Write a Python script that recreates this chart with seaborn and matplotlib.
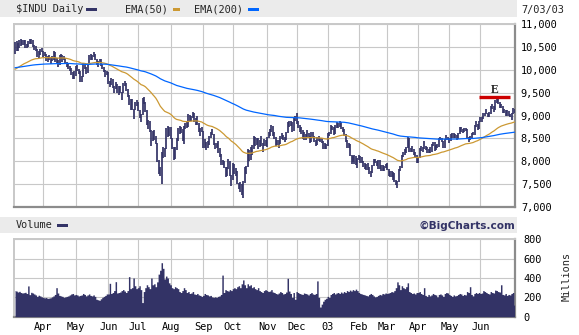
import numpy as np
import pandas as pd
import matplotlib
matplotlib.use("Agg")
import matplotlib.pyplot as plt
from matplotlib.patches import Rectangle
import seaborn as sns

# ---------------- data ----------------
start_date = "2002-03-04"
end_date = "2003-07-03"
market_holidays = ["2002-03-29", "2002-05-27", "2002-07-04", "2002-09-02", "2002-11-28",
                   "2002-12-25", "2003-01-01", "2003-01-20", "2003-02-17", "2003-04-18",
                   "2003-05-26"]

close = [
    10586, 10433, 10574, 10525, 10572, 10611, 10632, 10501, 10517, 10608, 10577, 10635, 10501, 10497, 10427, 10281, 10353, 10427, 10404,
    10362, 10313, 10205, 10241, 10271, 10249, 10208, 10381, 10176, 10191, 10093, 10301, 10281, 10262, 10257, 10136, 10089, 10031, 10035, 9910, 9819, 9946,
    10059, 10007, 9939, 9740, 9836, 10141, 10037, 9939, 10109, 10298, 10243, 10289, 10353, 10229, 10105, 10157, 10216, 10104, 10040, 9981, 9912, 9925,
    9709, 9687, 9796, 9624, 9589, 9645, 9517, 9617, 9502, 9474, 9687, 9706, 9561, 9431, 9253, 9281, 9126, 9120, 9269, 9243,
    9109, 8971, 9008, 9380, 9275, 9096, 8813, 8801, 8684, 8639, 8473, 8542, 8409, 8019, 7784, 7702, 8191, 8186, 8264, 8712, 8680, 8737,
    8506, 8313, 8043, 8274, 8456, 8712, 8745, 8688, 8482, 8743, 8818, 8778, 9011, 8907, 8957, 9053, 8872, 8919, 8825, 8695, 8670, 8664,
    8308, 8426, 8284, 8428, 8519, 8602, 8581, 8379, 8313, 8380, 8207, 8172, 7942, 7986, 7872, 7683, 7841, 7997, 7701, 7592,
    7938, 7755, 7717, 7528, 7422, 7501, 7286, 7534, 7850, 7877, 8255, 8036, 8275, 8322, 8538, 8451, 8495, 8318, 8444, 8368, 8368, 8427, 8397,
    8518, 8571, 8679, 8771, 8586, 8537, 8358, 8386, 8398, 8542, 8579, 8486, 8474, 8623, 8846, 8804, 8849, 8676, 8931, 8896,
    8862, 8743, 8737, 8623, 8645, 8473, 8574, 8589, 8538, 8433, 8627, 8535, 8447, 8364, 8511, 8493, 8448, 8432, 8304, 8333, 8342,
    8607, 8602, 8773, 8740, 8595, 8777, 8785, 8785, 8843, 8723, 8697, 8586, 8442, 8318, 8369, 8131, 7989, 8089, 8110, 7945, 8054,
    8110, 8013, 7985, 7930, 7865, 7920, 7843, 7758, 7750, 7908, 8041, 8000, 7915, 8018, 7858, 7909, 7806, 7884, 7891,
    7837, 7705, 7776, 7674, 7741, 7568, 7525, 7553, 7821, 7859, 8141, 8194, 8266, 8287, 8522, 8215, 8280, 8229, 8201, 8145, 7992,
    8069, 8285, 8240, 8277, 8300, 8298, 8197, 8221, 8203, 8351, 8403, 8257, 8337, 8328, 8485, 8516, 8440, 8306, 8471, 8502, 8480,
    8454, 8583, 8531, 8588, 8560, 8491, 8604, 8726, 8679, 8647, 8713, 8702, 8493, 8491, 8516, 8594, 8601, 8782, 8793, 8711, 8850,
    8898, 8922, 9039, 9042, 9062, 8980, 9054, 9183, 9196, 9117, 9318, 9323, 9294, 9179, 9201, 9072, 9109, 9011, 9079, 9025, 8985,
    9040, 9142, 9070,
]

high = [
    10600, 10620, 10590, 10640, 10660, 10650, 10650, 10640, 10560, 10620, 10660, 10670, 10640, 10530, 10520, 10450, 10400, 10440, 10470,
    10410, 10380, 10330, 10300, 10320, 10280, 10290, 10400, 10390, 10250, 10200, 10310, 10350, 10310, 10290, 10260, 10160, 10130, 10070, 10040, 9950, 9980,
    10080, 10100, 10020, 9960, 9870, 10150, 10150, 10050, 10130, 10320, 10340, 10310, 10380, 10350, 10240, 10180, 10240, 10230, 10130, 10050, 10000, 9970,
    9940, 9760, 9820, 9800, 9650, 9730, 9680, 9640, 9650, 9510, 9710, 9750, 9710, 9580, 9440, 9370, 9370, 9150, 9300, 9330,
    9290, 9120, 9030, 9390, 9400, 9300, 9110, 8900, 8880, 8690, 8660, 8680, 8550, 8410, 8040, 7870, 8210, 8310, 8290, 8730, 8770, 8750,
    8750, 8510, 8320, 8310, 8500, 8730, 8780, 8760, 8700, 8770, 8830, 8880, 9030, 9010, 9000, 9080, 9050, 8950, 8990, 8830, 8730, 8750,
    8660, 8480, 8430, 8450, 8560, 8630, 8700, 8590, 8390, 8410, 8440, 8300, 8170, 8040, 8010, 7880, 7870, 8050, 8000, 7710,
    7960, 7940, 7860, 7780, 7540, 7560, 7510, 7570, 7880, 7900, 8270, 8250, 8320, 8350, 8550, 8540, 8520, 8500, 8470, 8550, 8390, 8480, 8460,
    8540, 8640, 8700, 8800, 8770, 8640, 8540, 8460, 8460, 8560, 8610, 8580, 8530, 8640, 8860, 8880, 8880, 8850, 8950, 8990,
    9050, 8870, 8800, 8760, 8680, 8650, 8600, 8680, 8610, 8550, 8650, 8630, 8560, 8470, 8540, 8560, 8510, 8510, 8440, 8390, 8380,
    8620, 8640, 8800, 8780, 8750, 8800, 8850, 8830, 8870, 8850, 8760, 8700, 8600, 8460, 8400, 8370, 8140, 8110, 8140, 8110, 8080,
    8150, 8110, 8100, 8000, 7960, 7940, 7960, 7870, 7790, 7920, 8060, 8050, 8010, 8040, 8020, 7930, 7920, 7910, 7950,
    7960, 7840, 7800, 7780, 7760, 7740, 7590, 7570, 7840, 7900, 8150, 8210, 8280, 8310, 8540, 8510, 8300, 8330, 8260, 8210, 8140,
    8100, 8300, 8330, 8320, 8450, 8330, 8310, 8260, 8320, 8370, 8420, 8420, 8360, 8380, 8500, 8540, 8520, 8440, 8490, 8580, 8540,
    8500, 8600, 8620, 8610, 8600, 8570, 8620, 8740, 8740, 8710, 8730, 8730, 8700, 8530, 8550, 8610, 8630, 8800, 8870, 8820, 8870,
    8970, 8960, 9050, 9060, 9140, 9060, 9070, 9200, 9240, 9200, 9330, 9380, 9350, 9300, 9260, 9210, 9150, 9130, 9110, 9100, 9040,
    9050, 9160, 9150,
]

low = [
    10350, 10410, 10400, 10480, 10510, 10530, 10540, 10480, 10480, 10500, 10550, 10560, 10490, 10420, 10410, 10270, 10260, 10320, 10380,
    10280, 10290, 10180, 10160, 10220, 10120, 10190, 10200, 10160, 10140, 10060, 10090, 10240, 10170, 10220, 10120, 10050, 10010, 9970, 9890, 9790, 9800,
    9860, 9980, 9900, 9730, 9720, 9840, 10010, 9910, 9920, 10110, 10200, 10200, 10280, 10210, 10090, 10050, 10140, 10080, 10010, 9950, 9840, 9880,
    9690, 9620, 9670, 9600, 9490, 9570, 9500, 9440, 9480, 9330, 9480, 9650, 9540, 9400, 9230, 9120, 9110, 8930, 9110, 9210,
    9090, 8950, 8850, 9010, 9240, 9080, 8790, 8700, 8650, 8330, 8440, 8460, 8380, 7990, 7730, 7680, 7500, 8080, 8090, 8270, 8530, 8560,
    8480, 8280, 8020, 8050, 8250, 8440, 8600, 8620, 8450, 8370, 8700, 8730, 8760, 8880, 8870, 8950, 8850, 8790, 8800, 8640, 8560, 8630,
    8290, 8290, 8240, 8290, 8350, 8500, 8570, 8360, 8260, 8290, 8190, 8100, 7920, 7920, 7850, 7660, 7690, 7840, 7680, 7460,
    7590, 7730, 7680, 7500, 7400, 7330, 7270, 7200, 7530, 7720, 7880, 8010, 8040, 8150, 8270, 8330, 8350, 8270, 8310, 8340, 8210, 8340, 8330,
    8320, 8500, 8550, 8630, 8550, 8490, 8330, 8350, 8300, 8380, 8480, 8460, 8420, 8470, 8620, 8760, 8770, 8650, 8670, 8880,
    8810, 8720, 8650, 8600, 8480, 8460, 8470, 8540, 8500, 8410, 8430, 8510, 8420, 8330, 8360, 8450, 8430, 8390, 8280, 8260, 8280,
    8340, 8550, 8600, 8680, 8570, 8590, 8730, 8720, 8760, 8700, 8650, 8560, 8420, 8300, 8290, 8110, 7950, 7980, 7940, 7920, 7850,
    8020, 7970, 7960, 7870, 7840, 7820, 7820, 7730, 7660, 7740, 7900, 7960, 7890, 7840, 7840, 7780, 7790, 7780, 7860,
    7820, 7690, 7660, 7650, 7590, 7550, 7490, 7420, 7550, 7800, 7860, 8100, 8150, 8180, 8290, 8200, 8200, 8210, 8150, 8100, 7970,
    7960, 8070, 8220, 8210, 8280, 8250, 8180, 8180, 8180, 8200, 8330, 8230, 8240, 8300, 8320, 8460, 8420, 8290, 8300, 8460, 8460,
    8410, 8440, 8510, 8520, 8520, 8470, 8490, 8600, 8650, 8610, 8640, 8660, 8480, 8430, 8470, 8500, 8570, 8580, 8760, 8690, 8710,
    8850, 8860, 8920, 8990, 9030, 8960, 8970, 9040, 9150, 9080, 9110, 9280, 9260, 9160, 9170, 9050, 9050, 8990, 9000, 9000, 8960,
    8900, 9030, 9050,
]

volume_millions = [
    270, 265, 255, 262, 250, 245, 248, 252, 240, 318, 228, 252, 245, 235, 225, 210, 222, 215, 205,
    200, 195, 198, 190, 192, 196, 205, 215, 230, 300, 245, 220, 215, 210, 200, 205, 210, 215, 225, 235, 240, 225,
    230, 225, 215, 220, 225, 240, 230, 215, 225, 235, 220, 215, 225, 210, 180, 175, 170, 185, 200, 210, 220, 235,
    235, 345, 240, 250, 270, 362, 245, 250, 255, 270, 280, 265, 250, 270, 414, 290, 300, 400, 320, 290,
    300, 320, 280, 146, 260, 300, 330, 310, 290, 400, 330, 340, 310, 360, 440, 480, 558, 500, 390, 420, 400, 350,
    330, 300, 290, 310, 300, 290, 260, 250, 270, 300, 280, 250, 260, 240, 245, 260, 235, 230, 240, 225, 220, 210,
    220, 240, 230, 225, 215, 220, 205, 200, 205, 200, 210, 215, 230, 430, 250, 280, 270, 265, 280, 270,
    290, 300, 290, 310, 320, 300, 340, 380, 330, 300, 340, 320, 330, 300, 310, 290, 280, 300, 270, 260, 250, 270, 280,
    270, 260, 265, 280, 255, 250, 240, 235, 245, 260, 250, 235, 240, 255, 397, 265, 240, 200, 250, 180,
    260, 250, 240, 235, 230, 245, 240, 235, 225, 240, 250, 235, 230, 240, 370, 200, 100, 130, 160, 180, 190,
    210, 200, 230, 240, 250, 235, 245, 250, 240, 255, 245, 260, 250, 270, 260, 275, 265, 280, 270, 285, 270,
    250, 240, 235, 230, 225, 220, 215, 230, 240, 230, 215, 205, 210, 220, 230, 225, 240, 235, 245,
    240, 245, 250, 260, 255, 270, 300, 360, 330, 280, 320, 300, 290, 310, 350, 260, 250, 240, 245, 235, 250,
    250, 260, 240, 230, 300, 220, 210, 230, 215, 225, 240, 230, 225, 205, 230, 235, 225, 210, 240, 250, 245,
    230, 220, 210, 225, 215, 220, 230, 240, 235, 220, 230, 225, 260, 250, 310, 230, 215, 240, 250, 240, 250,
    240, 245, 270, 260, 250, 240, 235, 260, 250, 245, 275, 270, 260, 255, 330, 230, 225, 240, 220, 230, 225,
    240, 250, 120,
]

ema50_seed = 9985      # EMA(50) value just before the first bar
ema200_seed = 10035    # EMA(200) value just before the first bar

price_ticks = [7000, 7500, 8000, 8500, 9000, 9500, 10000, 10500, 11000]
volume_ticks = [0, 200, 400, 600, 800]

marker_level = 9400
marker_start = "2003-05-30"
marker_end = "2003-06-30"
marker_text = "E"
marker_text_level = 9560
last_date_label = "7/03/03"

# ---------------- derived series ----------------
dates = pd.bdate_range(start_date, end_date, freq="C", holidays=market_holidays)
df = pd.DataFrame({"date": dates, "close": close, "high": high, "low": low,
                   "volume": volume_millions})
df["i"] = np.arange(len(df))
df["ema50"] = pd.Series([ema50_seed] + close).ewm(span=50, adjust=False).mean().iloc[1:].values
df["ema200"] = pd.Series([ema200_seed] + close).ewm(span=200, adjust=False).mean().iloc[1:].values

month_change = df["date"].dt.month.ne(df["date"].dt.month.shift())
month_rows = df[month_change].iloc[1:]
month_rows = month_rows[month_rows["date"] < pd.Timestamp("2003-07-01")]
tick_pos = month_rows["i"].tolist()
tick_lab = ["03" if d.month == 1 else d.strftime("%b") for d in month_rows["date"]]

pos = {d: k for k, d in enumerate(df["date"])}
m0 = pos[pd.Timestamp(marker_start)]
m1 = pos[pd.Timestamp(marker_end)]

# ---------------- style ----------------
sns.set_style("white")
plt.rcParams["font.family"] = ["DejaVu Sans Mono", "DejaVu Sans"]

NAVY = "#333366"
ORANGE = "#CC9933"
BLUE = "#0066FF"
GRID = "#C8C8C8"
BAND = "#EBEBEB"
DARK = "#8C8C8C"

W, H = 579, 335
def fx(px):
    return px / W
def fy(py):
    return 1 - py / H

fig = plt.figure(figsize=(W / 100, H / 100), dpi=100)
fig.patch.set_facecolor("white")

# header bands
fig.add_artist(Rectangle((0, fy(16.5)), fx(517), 16.5 / H, transform=fig.transFigure,
                         facecolor=BAND, edgecolor="none", zorder=0))
fig.add_artist(Rectangle((0, fy(232.7)), fx(517), 16 / H, transform=fig.transFigure,
                         facecolor=BAND, edgecolor="none", zorder=0))

L, R = 14.3, 515.3
ax_p = fig.add_axes([fx(L), fy(207.3), (R - L) / W, (207.3 - 23.7) / H])
ax_v = fig.add_axes([fx(L), fy(316.7), (R - L) / W, (316.7 - 239.3) / H])

for ax in (ax_p, ax_v):
    ax.set_xlim(-0.5, len(df) - 0.5)
    ax.set_axisbelow(True)
    ax.grid(True, color=GRID, lw=0.8)
    ax.spines["left"].set_color(GRID)
    ax.spines["left"].set_linewidth(1.4)
    ax.spines["top"].set_color(GRID)
    ax.spines["top"].set_linewidth(1.4)
    ax.spines["bottom"].set_color(DARK)
    ax.spines["bottom"].set_linewidth(1.6)
    ax.spines["right"].set_color(DARK)
    ax.spines["right"].set_linewidth(1.6)
    ax.set_xticks(tick_pos)
    ax.yaxis.tick_right()
    ax.tick_params(length=0, labelsize=7.4, colors="black")
    ax.set_xlabel("")
    ax.set_ylabel("")

# price panel
ax_p.vlines(df["i"], df["low"], df["high"], color=NAVY, lw=1.25, zorder=3)
sns.lineplot(data=df, x="i", y="ema50", ax=ax_p, color=ORANGE, lw=0.9, legend=False, zorder=4)
sns.lineplot(data=df, x="i", y="ema200", ax=ax_p, color=BLUE, lw=0.9, legend=False, zorder=4)
ax_p.hlines(marker_level, m0, m1, color="#CC0000", lw=2.4, zorder=5)
ax_p.text((m0 + m1) / 2, marker_text_level, marker_text, ha="center", va="center",
          fontsize=8.5, fontweight="bold", family="Liberation Serif", zorder=6)
ax_p.set_ylim(7000, 11000)
ax_p.set_yticks(price_ticks)
ax_p.set_yticklabels([f"{v:,}" for v in price_ticks])
ax_p.set_xticklabels([])
ax_p.tick_params(axis="y", pad=4)
ax_p.set_xlabel("")
ax_p.set_ylabel("")

# volume panel
ax_v.fill_between(df["i"], df["volume"], step="mid", color=NAVY, lw=0, zorder=3)
ax_v.set_ylim(0, 800)
ax_v.set_yticks(volume_ticks)
ax_v.set_xticklabels(tick_lab)
ax_v.tick_params(axis="y", pad=6)
ax_v.tick_params(axis="x", pad=4)

# header texts and legend swatches
fs = 7.4
fig.text(fx(15.5), fy(9.5), "$INDU Daily", ha="left", va="center", fontsize=fs)
fig.add_artist(Rectangle((fx(86), fy(10.8)), 11 / W, 2.6 / H, transform=fig.transFigure,
                         facecolor=NAVY, edgecolor="none"))
fig.text(fx(125.5), fy(9.5), "EMA(50)", ha="left", va="center", fontsize=fs)
fig.add_artist(Rectangle((fx(172.7), fy(10.8)), 7.5 / W, 2.6 / H, transform=fig.transFigure,
                         facecolor=ORANGE, edgecolor="none"))
fig.text(fx(194), fy(9.5), "EMA(200)", ha="left", va="center", fontsize=fs)
fig.add_artist(Rectangle((fx(248), fy(10.8)), 11 / W, 2.6 / H, transform=fig.transFigure,
                         facecolor=BLUE, edgecolor="none"))
fig.text(fx(521.5), fy(9.5), last_date_label, ha="left", va="center", fontsize=fs)

fig.text(fx(15.5), fy(225.5), "Volume", ha="left", va="center", fontsize=fs)
fig.add_artist(Rectangle((fx(57), fy(226.8)), 11 / W, 2.6 / H, transform=fig.transFigure,
                         facecolor=NAVY, edgecolor="none"))
fig.text(fx(515), fy(225.5), "\u00a9BigCharts.com", ha="right", va="center", fontsize=7.6,
         fontweight="bold", color=NAVY, family="DejaVu Sans")
fig.text(fx(567), fy(276.7), "Millions", ha="center", va="center", rotation=90, fontsize=fs)

fig.savefig("out.png", dpi=100, facecolor="white")
